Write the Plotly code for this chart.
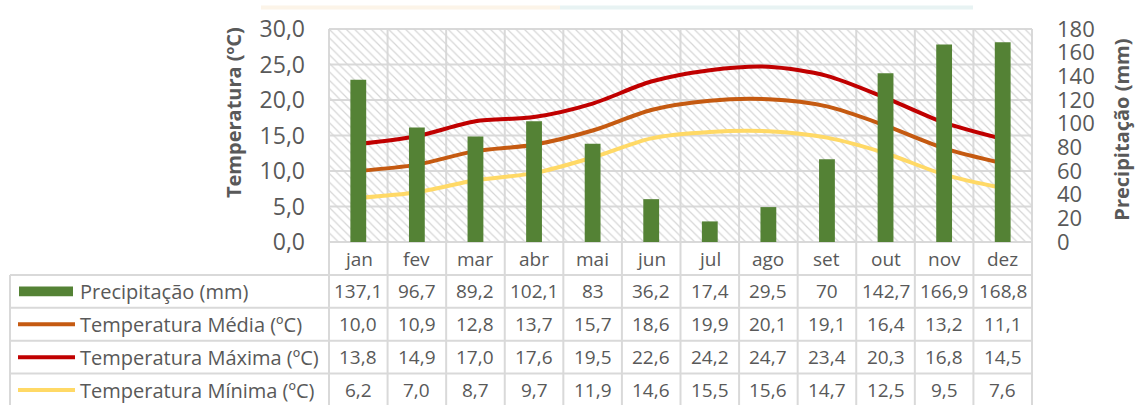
import plotly.graph_objects as go

# ---- data ----
months = ["jan", "fev", "mar", "abr", "mai", "jun", "jul", "ago", "set", "out", "nov", "dez"]
precip = [137.1, 96.7, 89.2, 102.1, 83, 36.2, 17.4, 29.5, 70, 142.7, 166.9, 168.8]
t_med = [10.0, 10.9, 12.8, 13.7, 15.7, 18.6, 19.9, 20.1, 19.1, 16.4, 13.2, 11.1]
t_max = [13.8, 14.9, 17.0, 17.6, 19.5, 22.6, 24.2, 24.7, 23.4, 20.3, 16.8, 14.5]
t_min = [6.2, 7.0, 8.7, 9.7, 11.9, 14.6, 15.5, 15.6, 14.7, 12.5, 9.5, 7.6]

series_names = ["Precipitação (mm)", "Temperatura Média (ºC)", "Temperatura Máxima (ºC)", "Temperatura Mínima (ºC)"]
temp_range = [0, 30]
precip_range = [0, 180]

# ---- style ----
W, H = 1137, 405
L, R, T, B = 329, 1032, 24, 242
PW, PH = R - L, B - T
FONT = "Open Sans"
TXT = "#595959"
GRID = "#d9d9d9"
C_PREC = "#548235"
C_MED = "#c55a11"
C_MAX = "#c00000"
C_MIN = "#ffd966"


def px_x(px):
    return (px - L) / PW


def px_y(py):
    return (B - py) / PH


def fmt_num(v, force_dec=False):
    if not force_dec and float(v).is_integer():
        return str(int(v))
    return f"{v:.1f}".replace(".", ",")


fig = go.Figure()

# hatched background of plot area
fig.add_trace(go.Bar(
    x=months, y=[temp_range[1]] * len(months), width=1,
    marker=dict(color="rgba(0,0,0,0)", line=dict(width=0),
                pattern=dict(shape="\\", fgcolor="#d6d6d6", size=6, solidity=0.2, fillmode="replace")),
    hoverinfo="skip", showlegend=False, yaxis="y"))

fig.add_trace(go.Bar(x=months, y=precip, width=0.27, marker=dict(color=C_PREC, line=dict(width=0)),
                     name=series_names[0], yaxis="y2", showlegend=False))
for vals, col, nm in [(t_med, C_MED, series_names[1]), (t_max, C_MAX, series_names[2]), (t_min, C_MIN, series_names[3])]:
    fig.add_trace(go.Scatter(x=months, y=vals, mode="lines", line=dict(color=col, width=4, shape="spline", smoothing=0.8),
                             name=nm, yaxis="y", showlegend=False))

shapes = []
# top decorative strip
shapes.append(dict(type="rect", xref="paper", yref="paper", x0=px_x(261), x1=px_x(560), y0=px_y(0), y1=px_y(4),
                   fillcolor="#fcf4e8", line=dict(width=0), layer="below"))
shapes.append(dict(type="rect", xref="paper", yref="paper", x0=px_x(560), x1=px_x(973), y0=px_y(0), y1=px_y(4),
                   fillcolor="#e8f3f3", line=dict(width=0), layer="below"))
# horizontal gridlines
for k in range(7):
    shapes.append(dict(type="line", xref="paper", yref="paper", x0=0, x1=1, y0=k / 6, y1=k / 6,
                       line=dict(color=GRID, width=2), layer="below"))
# vertical lines (plot + table)
n = len(months)
for i in range(n + 1):
    shapes.append(dict(type="line", xref="paper", yref="paper", x0=i / n, x1=i / n, y0=1, y1=px_y(410),
                       line=dict(color=GRID, width=2), layer="below"))
# table horizontal lines
row_lines = [275.7, 309.3, 343.0, 376.7]
for py in row_lines:
    shapes.append(dict(type="line", xref="paper", yref="paper", x0=px_x(10), x1=1, y0=px_y(py), y1=px_y(py),
                       line=dict(color=GRID, width=2), layer="below"))
shapes.append(dict(type="line", xref="paper", yref="paper", x0=px_x(10), x1=px_x(10), y0=px_y(275.7), y1=px_y(410),
                   line=dict(color=GRID, width=2), layer="below"))

row_centers = [292.5, 326.1, 359.9, 393.5]
# legend keys
shapes.append(dict(type="rect", xref="paper", yref="paper", x0=px_x(19), x1=px_x(73),
                   y0=px_y(row_centers[0] - 5), y1=px_y(row_centers[0] + 5), fillcolor=C_PREC, line=dict(width=0)))
for yc, col in zip(row_centers[1:], [C_MED, C_MAX, C_MIN]):
    shapes.append(dict(type="line", xref="paper", yref="paper", x0=px_x(18), x1=px_x(75), y0=px_y(yc), y1=px_y(yc),
                       line=dict(color=col, width=4)))

annotations = []
# category labels
for m in months:
    annotations.append(dict(x=m, y=px_y(259), xref="x", yref="paper", text=m, showarrow=False,
                            font=dict(family=FONT, size=19, color=TXT), xanchor="center", yanchor="middle"))
# table labels
for nm, yc in zip(series_names, row_centers):
    annotations.append(dict(x=px_x(78), y=px_y(yc), xref="paper", yref="paper", text=nm, showarrow=False,
                            font=dict(family=FONT, size=20, color=TXT), xanchor="left", yanchor="middle"))
# table values
rows = [(precip, False), (t_med, True), (t_max, True), (t_min, True)]
for (vals, dec), yc in zip(rows, row_centers):
    for m, v in zip(months, vals):
        annotations.append(dict(x=m, y=px_y(yc), xref="x", yref="paper", text=fmt_num(v, dec), showarrow=False,
                                font=dict(family=FONT, size=19, color=TXT), xanchor="center", yanchor="middle"))
# axis titles
annotations.append(dict(x=px_x(233), y=px_y(110), xref="paper", yref="paper", text="<b>Temperatura (ºC)</b>",
                        textangle=-90, showarrow=False, xanchor="center", yanchor="middle",
                        font=dict(family=FONT, size=20, color=TXT)))
annotations.append(dict(x=px_x(1122), y=px_y(127), xref="paper", yref="paper", text="<b>Precipitação (mm)</b>",
                        textangle=-90, showarrow=False, xanchor="center", yanchor="middle",
                        font=dict(family=FONT, size=20, color=TXT)))

fig.update_layout(
    width=W, height=H,
    margin=dict(l=L, r=W - R, t=T, b=H - B, pad=0),
    paper_bgcolor="white", plot_bgcolor="rgba(0,0,0,0)",
    separators=",.",
    barmode="overlay",
    showlegend=False,
    font=dict(family=FONT, color=TXT),
    xaxis=dict(type="category", range=[-0.5, n - 0.5], showgrid=False, showticklabels=False, ticks="",
               zeroline=False, showline=False, fixedrange=True),
    yaxis=dict(range=temp_range, dtick=5, tickformat=".1f", showgrid=False, zeroline=False, showline=False,
               ticks="", ticklabelstandoff=23, tickfont=dict(family=FONT, size=23, color=TXT)),
    yaxis2=dict(range=precip_range, dtick=20, overlaying="y", side="right", showgrid=False, zeroline=False,
                showline=False, ticks="", ticklabelstandoff=24, tickfont=dict(family=FONT, size=22, color=TXT)),
    shapes=shapes,
    annotations=annotations,
)

fig.write_html("out.html", config={"displayModeBar": False},
               post_script="document.body.style.margin='0';document.body.style.padding='0';")
